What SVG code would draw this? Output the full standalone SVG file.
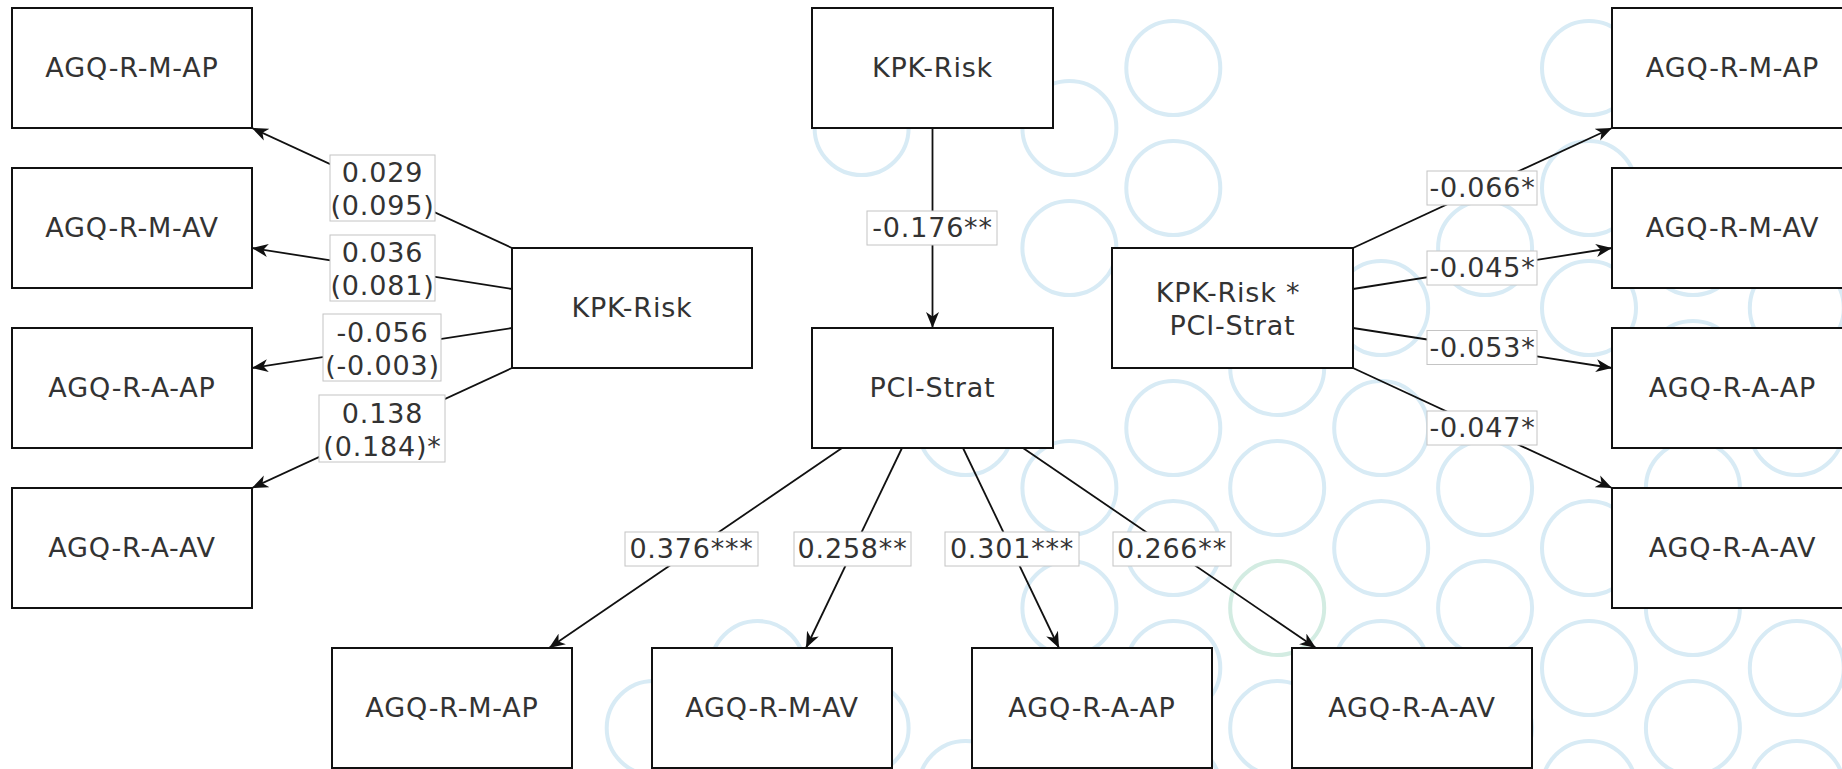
<svg xmlns="http://www.w3.org/2000/svg" width="1842" height="769" viewBox="0 0 1842 769">
<defs>
<style>
.bg{fill:none;stroke:#d8ebf5;stroke-width:4}
.bg.g{stroke:#d3ece2}
.node{fill:#fff;stroke:#111;stroke-width:2}
.t{font-family:"DejaVu Sans",Verdana,sans-serif;font-size:27px;fill:#333;text-anchor:middle;letter-spacing:0.8px}
.e{stroke:#111;stroke-width:1.8;fill:none;marker-end:url(#arr)}
.lb{fill:#fff;stroke:#c4c4c4;stroke-width:1}
</style>
<marker id="arr" markerUnits="userSpaceOnUse" markerWidth="17" markerHeight="14" refX="16" refY="7" orient="auto">
<path d="M0,0.5 L16,7 L0,13.5 L4.5,7 Z" fill="#111"/>
</marker>
</defs>
<rect width="1842" height="769" fill="#fff"/>
<g id="background">
<circle class="bg" cx="653.7" cy="728" r="47"/>
<circle class="bg" cx="757.6" cy="668" r="47"/>
<circle class="bg" cx="757.6" cy="788" r="47"/>
<circle class="bg" cx="861.6" cy="128" r="47"/>
<circle class="bg" cx="861.6" cy="728" r="47"/>
<circle class="bg" cx="965.5" cy="428" r="47"/>
<circle class="bg" cx="965.5" cy="788" r="47"/>
<circle class="bg" cx="1069.4" cy="128" r="47"/>
<circle class="bg" cx="1069.4" cy="248" r="47"/>
<circle class="bg" cx="1069.4" cy="488" r="47"/>
<circle class="bg" cx="1069.4" cy="608" r="47"/>
<circle class="bg" cx="1069.4" cy="728" r="47"/>
<circle class="bg" cx="1173.3" cy="68" r="47"/>
<circle class="bg" cx="1173.3" cy="188" r="47"/>
<circle class="bg" cx="1173.3" cy="428" r="47"/>
<circle class="bg" cx="1173.3" cy="548" r="47"/>
<circle class="bg" cx="1173.3" cy="668" r="47"/>
<circle class="bg" cx="1173.3" cy="788" r="47"/>
<circle class="bg" cx="1277.2" cy="368" r="47"/>
<circle class="bg" cx="1277.2" cy="488" r="47"/>
<circle class="bg g" cx="1277.2" cy="608" r="47"/>
<circle class="bg" cx="1277.2" cy="728" r="47"/>
<circle class="bg" cx="1381.2" cy="308" r="47"/>
<circle class="bg" cx="1381.2" cy="428" r="47"/>
<circle class="bg" cx="1381.2" cy="548" r="47"/>
<circle class="bg" cx="1381.2" cy="668" r="47"/>
<circle class="bg" cx="1381.2" cy="788" r="47"/>
<circle class="bg" cx="1485.1" cy="248" r="47"/>
<circle class="bg" cx="1485.1" cy="488" r="47"/>
<circle class="bg" cx="1485.1" cy="608" r="47"/>
<circle class="bg" cx="1485.1" cy="728" r="47"/>
<circle class="bg" cx="1589" cy="68" r="47"/>
<circle class="bg" cx="1589" cy="188" r="47"/>
<circle class="bg" cx="1589" cy="308" r="47"/>
<circle class="bg" cx="1589" cy="548" r="47"/>
<circle class="bg" cx="1589" cy="668" r="47"/>
<circle class="bg" cx="1589" cy="788" r="47"/>
<circle class="bg" cx="1692.9" cy="248" r="47"/>
<circle class="bg" cx="1692.9" cy="368" r="47"/>
<circle class="bg" cx="1692.9" cy="488" r="47"/>
<circle class="bg" cx="1692.9" cy="608" r="47"/>
<circle class="bg" cx="1692.9" cy="728" r="47"/>
<circle class="bg" cx="1796.8" cy="308" r="47"/>
<circle class="bg" cx="1796.8" cy="428" r="47"/>
<circle class="bg" cx="1796.8" cy="548" r="47"/>
<circle class="bg" cx="1796.8" cy="668" r="47"/>
<circle class="bg" cx="1796.8" cy="788" r="47"/>
</g>
<g id="n-left-mmap"><rect class="node" x="12" y="8" width="240" height="120"/><text class="t" x="132" y="77">AGQ-R-M-AP</text></g>
<g id="n-left-mmav"><rect class="node" x="12" y="168" width="240" height="120"/><text class="t" x="132" y="237">AGQ-R-M-AV</text></g>
<g id="n-left-maap"><rect class="node" x="12" y="328" width="240" height="120"/><text class="t" x="132" y="397">AGQ-R-A-AP</text></g>
<g id="n-left-maav"><rect class="node" x="12" y="488" width="240" height="120"/><text class="t" x="132" y="557">AGQ-R-A-AV</text></g>
<g id="n-kpk-left"><rect class="node" x="512" y="248" width="240" height="120"/><text class="t" x="632" y="317">KPK-Risk</text></g>
<g id="n-kpk-top"><rect class="node" x="812" y="8" width="241" height="120"/><text class="t" x="932.5" y="77">KPK-Risk</text></g>
<g id="n-pci"><rect class="node" x="812" y="328" width="241" height="120"/><text class="t" x="932.5" y="397">PCI-Strat</text></g>
<g id="n-inter"><rect class="node" x="1112" y="248" width="241" height="120"/><text class="t" x="1228" y="301.5">KPK-Risk *</text><text class="t" x="1232.5" y="335">PCI-Strat</text></g>
<g id="n-right-mmap"><rect class="node" x="1612" y="8" width="241" height="120"/><text class="t" x="1732.5" y="77">AGQ-R-M-AP</text></g>
<g id="n-right-mmav"><rect class="node" x="1612" y="168" width="241" height="120"/><text class="t" x="1732.5" y="237">AGQ-R-M-AV</text></g>
<g id="n-right-maap"><rect class="node" x="1612" y="328" width="241" height="120"/><text class="t" x="1732.5" y="397">AGQ-R-A-AP</text></g>
<g id="n-right-maav"><rect class="node" x="1612" y="488" width="241" height="120"/><text class="t" x="1732.5" y="557">AGQ-R-A-AV</text></g>
<g id="n-bot-mmap"><rect class="node" x="332" y="648" width="240" height="120"/><text class="t" x="452" y="717">AGQ-R-M-AP</text></g>
<g id="n-bot-mmav"><rect class="node" x="652" y="648" width="240" height="120"/><text class="t" x="772" y="717">AGQ-R-M-AV</text></g>
<g id="n-bot-maap"><rect class="node" x="972" y="648" width="240" height="120"/><text class="t" x="1092" y="717">AGQ-R-A-AP</text></g>
<g id="n-bot-maav"><rect class="node" x="1292" y="648" width="240" height="120"/><text class="t" x="1412" y="717">AGQ-R-A-AV</text></g>
<g id="connectors">
<line class="e" x1="512" y1="248" x2="252" y2="128"/>
<line class="e" x1="512" y1="289" x2="252" y2="248"/>
<line class="e" x1="512" y1="328" x2="252" y2="368"/>
<line class="e" x1="512" y1="368" x2="252" y2="488"/>
<line class="e" x1="932.5" y1="128" x2="932.5" y2="328"/>
<line class="e" x1="842" y1="448" x2="549" y2="648"/>
<line class="e" x1="902" y1="448" x2="806" y2="648"/>
<line class="e" x1="963" y1="448" x2="1059" y2="648"/>
<line class="e" x1="1023" y1="448" x2="1316" y2="648"/>
<line class="e" x1="1353" y1="248" x2="1612" y2="128"/>
<line class="e" x1="1353" y1="289" x2="1612" y2="248"/>
<line class="e" x1="1353" y1="328" x2="1612" y2="368"/>
<line class="e" x1="1353" y1="368" x2="1612" y2="488"/>
<rect class="lb" x="330" y="155" width="105" height="66"/><text class="t" x="382.5" y="182">0.029</text><text class="t" x="382.5" y="215">(0.095)</text>
<rect class="lb" x="330" y="235" width="105" height="66"/><text class="t" x="382.5" y="262">0.036</text><text class="t" x="382.5" y="295">(0.081)</text>
<rect class="lb" x="323" y="314" width="118" height="67"/><text class="t" x="382.5" y="341.5">-0.056</text><text class="t" x="382.5" y="374.5">(-0.003)</text>
<rect class="lb" x="319" y="395" width="126" height="67"/><text class="t" x="382.5" y="422.5">0.138</text><text class="t" x="382.5" y="455.5">(0.184)*</text>
<rect class="lb" x="867" y="211" width="130" height="34"/><text class="t" x="932.5" y="237">-0.176**</text>
<rect class="lb" x="1427" y="171" width="110" height="34"/><text class="t" x="1482.5" y="197">-0.066*</text>
<rect class="lb" x="1427" y="251" width="110" height="34"/><text class="t" x="1482.5" y="277">-0.045*</text>
<rect class="lb" x="1427" y="330.5" width="110" height="34"/><text class="t" x="1482.5" y="356.5">-0.053*</text>
<rect class="lb" x="1427" y="411" width="110" height="34"/><text class="t" x="1482.5" y="437">-0.047*</text>
<rect class="lb" x="625" y="532" width="133" height="34"/><text class="t" x="691.5" y="558">0.376***</text>
<rect class="lb" x="794" y="532" width="117" height="34"/><text class="t" x="852.5" y="558">0.258**</text>
<rect class="lb" x="945" y="532" width="134" height="34"/><text class="t" x="1012" y="558">0.301***</text>
<rect class="lb" x="1113" y="532" width="118" height="34"/><text class="t" x="1172" y="558">0.266**</text>
</g>
</svg>
